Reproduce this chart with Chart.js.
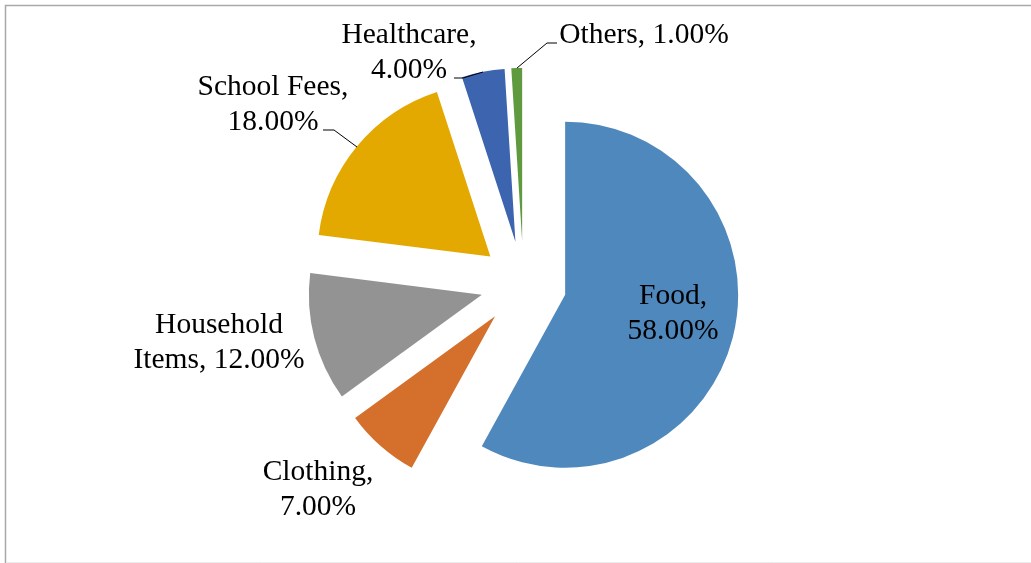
<!DOCTYPE html>
<html><head><meta charset="utf-8">
<script src="https://cdn.jsdelivr.net/npm/chart.js@4.4.0/dist/chart.umd.min.js"></script>
<style>html,body{margin:0;padding:0;background:#fff;overflow:hidden;}</style>
</head><body>
<canvas id="c" width="1031" height="563"></canvas>
<script>
// ---- data ----
const categories = ['Food', 'Clothing', 'Household Items', 'School Fees', 'Healthcare', 'Others'];
const shares = [58, 7, 12, 18, 4, 1];
const valueLabels = ['58.00%', '7.00%', '12.00%', '18.00%', '4.00%', '1.00%'];

// ---- styles / layout ----
const colors = ['#4F88BD', '#D46F2C', '#939393', '#E3A900', '#3D64AE', '#5F9A3F'];
const wrapMode = ['comma', 'comma', 'word', 'comma', 'comma', 'none'];
const labelPos = [[673, 304], [318, 480], [219, 333], [273, 95], [409, 43], [644, 43]];
const leaders = [null, null, null,
  [[323, 130], [334, 130], [357, 147]],
  [[454, 78], [463, 78], [483, 72]],
  [[517, 68], [547, 43], [557, 43]]];
const explode = 43;
const FONT = '29.5px "Liberation Serif", "Times New Roman", serif';
const LINE_H = 35;

function labelLines(i) {
  const cat = categories[i], val = valueLabels[i];
  if (wrapMode[i] === 'none') return [cat + ', ' + val];
  if (wrapMode[i] === 'word') {
    const sp = cat.indexOf(' ');
    return [cat.slice(0, sp), cat.slice(sp + 1) + ', ' + val];
  }
  return [cat + ',', val];
}

const frame = {
  id: 'frame',
  beforeDraw(chart) {
    const ctx = chart.ctx;
    ctx.save();
    ctx.fillStyle = '#fff';
    ctx.fillRect(0, 0, chart.width, chart.height);
    ctx.strokeStyle = '#a9a9a9';
    ctx.lineWidth = 1.5;
    ctx.beginPath();
    ctx.moveTo(5.5, chart.height);
    ctx.lineTo(5.5, 5.5);
    ctx.lineTo(chart.width, 5.5);
    ctx.stroke();
    ctx.strokeStyle = '#ececec';
    ctx.lineWidth = 1;
    ctx.beginPath();
    ctx.moveTo(6, 562.5);
    ctx.lineTo(chart.width, 562.5);
    ctx.stroke();
    ctx.restore();
  }
};

const exploded = {
  id: 'exploded',
  beforeDatasetDraw(chart, args) {
    const ctx = chart.ctx;
    args.meta.data.forEach(arc => {
      const mid = (arc.startAngle + arc.endAngle) / 2;
      ctx.save();
      ctx.translate(Math.cos(mid) * explode, Math.sin(mid) * explode);
      arc.draw(ctx);
      ctx.restore();
    });
    return false;
  },
  afterDatasetsDraw(chart) {
    const ctx = chart.ctx;
    ctx.save();
    ctx.strokeStyle = '#000';
    ctx.lineWidth = 1;
    leaders.forEach(pts => {
      if (!pts) return;
      ctx.beginPath();
      pts.forEach((p, k) => k ? ctx.lineTo(p[0], p[1]) : ctx.moveTo(p[0], p[1]));
      ctx.stroke();
    });
    ctx.font = FONT;
    ctx.fillStyle = '#000';
    ctx.textAlign = 'center';
    ctx.textBaseline = 'alphabetic';
    categories.forEach((c, i) => {
      labelLines(i).forEach((t, k) => ctx.fillText(t, labelPos[i][0], labelPos[i][1] + k * LINE_H));
    });
    ctx.restore();
  }
};

new Chart(document.getElementById('c'), {
  type: 'pie',
  data: {
    labels: categories,
    datasets: [{
      data: shares,
      backgroundColor: colors,
      borderWidth: 0,
      hoverOffset: 0
    }]
  },
  options: {
    responsive: false,
    devicePixelRatio: 1,
    animation: false,
    events: [],
    radius: 173,
    layout: { padding: { left: 16, top: 5, right: 0, bottom: 0 } },
    plugins: { legend: { display: false }, tooltip: { enabled: false } }
  },
  plugins: [frame, exploded]
});
</script>
</body></html>
